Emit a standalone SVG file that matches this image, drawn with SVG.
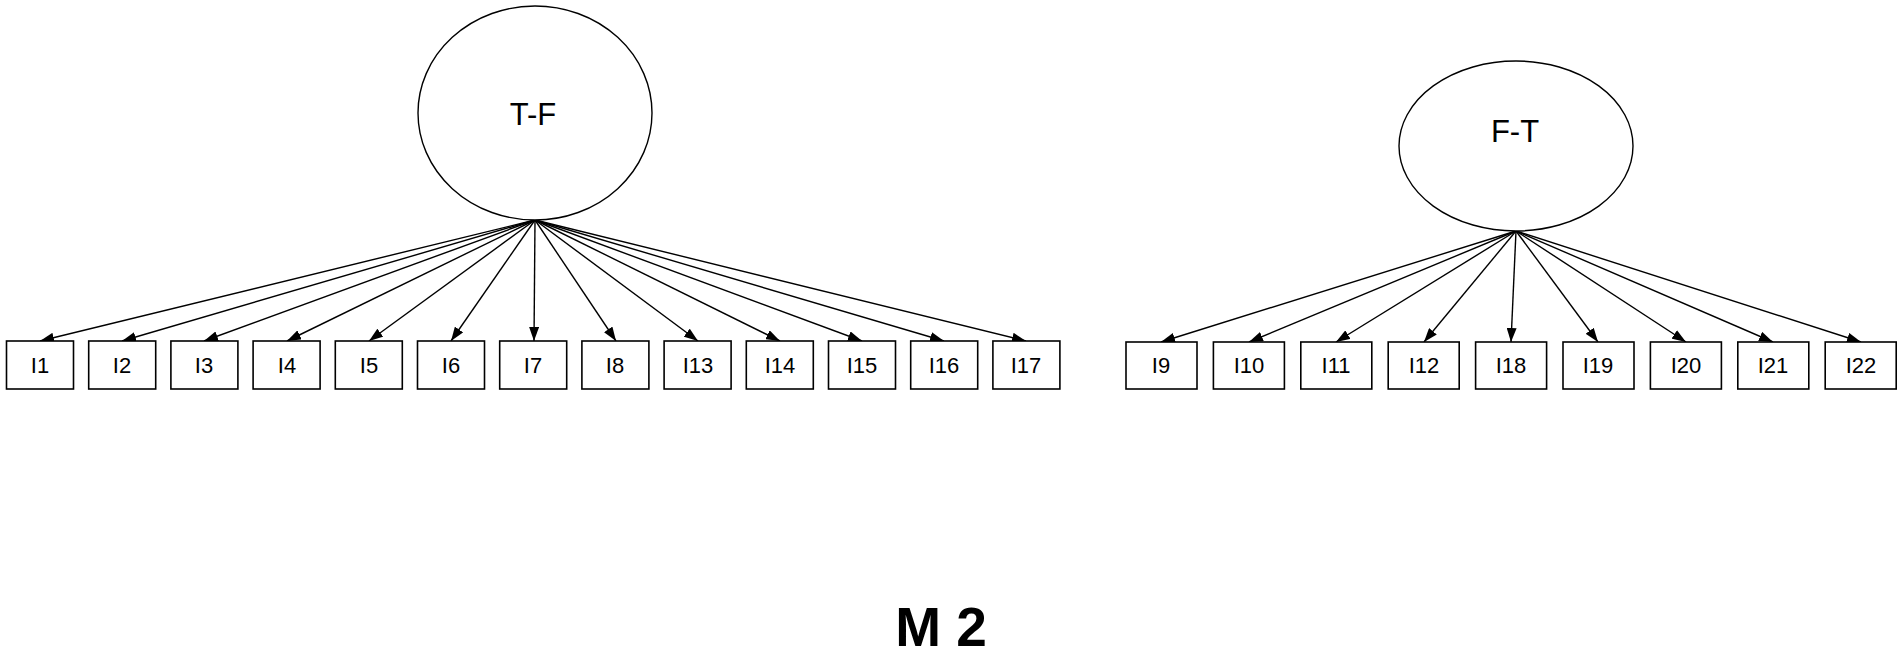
<svg xmlns="http://www.w3.org/2000/svg" width="1902" height="658" viewBox="0 0 1902 658">
<style>
.lat{fill:#fff;stroke:#000;stroke-width:1.4}
.box{fill:#fff;stroke:#000;stroke-width:1.6}
.lbl{font-family:"Liberation Sans",Arial,sans-serif;font-size:22px;fill:#000;text-anchor:middle}
.big{font-family:"Liberation Sans",Arial,sans-serif;font-size:31px;fill:#000;text-anchor:middle}
.title{font-family:"Liberation Sans",Arial,sans-serif;font-size:55px;font-weight:bold;fill:#000;text-anchor:middle}
.edge{stroke:#000;stroke-width:1.4;fill:none;marker-end:url(#ah)}
</style>
<defs>
<marker id="ah" markerUnits="userSpaceOnUse" markerWidth="14" markerHeight="10" refX="14" refY="5" orient="auto">
<path d="M0,0 L14,5 L0,10 z" fill="#000"/>
</marker>
</defs>
<rect width="1902" height="658" fill="#fff"/>
<g id="connectors">
<line class="edge" x1="535" y1="220" x2="40" y2="341"/>
<line class="edge" x1="535" y1="220" x2="122" y2="341"/>
<line class="edge" x1="535" y1="220" x2="204" y2="341"/>
<line class="edge" x1="535" y1="220" x2="287" y2="341"/>
<line class="edge" x1="535" y1="220" x2="369" y2="341"/>
<line class="edge" x1="535" y1="220" x2="451" y2="341"/>
<line class="edge" x1="535" y1="220" x2="534" y2="341"/>
<line class="edge" x1="535" y1="220" x2="616" y2="341"/>
<line class="edge" x1="535" y1="220" x2="698" y2="341"/>
<line class="edge" x1="535" y1="220" x2="780" y2="341"/>
<line class="edge" x1="535" y1="220" x2="862" y2="341"/>
<line class="edge" x1="535" y1="220" x2="944" y2="341"/>
<line class="edge" x1="535" y1="220" x2="1026" y2="341"/>
<line class="edge" x1="1516" y1="231" x2="1161" y2="342"/>
<line class="edge" x1="1516" y1="231" x2="1249" y2="342"/>
<line class="edge" x1="1516" y1="231" x2="1336" y2="342"/>
<line class="edge" x1="1516" y1="231" x2="1424" y2="342"/>
<line class="edge" x1="1516" y1="231" x2="1511" y2="342"/>
<line class="edge" x1="1516" y1="231" x2="1598" y2="342"/>
<line class="edge" x1="1516" y1="231" x2="1686" y2="342"/>
<line class="edge" x1="1516" y1="231" x2="1773" y2="342"/>
<line class="edge" x1="1516" y1="231" x2="1861" y2="342"/>
</g>
<g id="TF"><ellipse class="lat" cx="535" cy="113" rx="117" ry="107"/><text class="big" x="533" y="125">T-F</text></g>
<g id="FT"><ellipse class="lat" cx="1516" cy="146" rx="117" ry="85"/><text class="big" x="1515" y="142">F-T</text></g>
<g id="I1"><rect class="box" x="6.5" y="341" width="67" height="48"/><text class="lbl" x="40" y="373">I1</text></g>
<g id="I2"><rect class="box" x="88.7" y="341" width="67" height="48"/><text class="lbl" x="122" y="373">I2</text></g>
<g id="I3"><rect class="box" x="170.9" y="341" width="67" height="48"/><text class="lbl" x="204" y="373">I3</text></g>
<g id="I4"><rect class="box" x="253.1" y="341" width="67" height="48"/><text class="lbl" x="287" y="373">I4</text></g>
<g id="I5"><rect class="box" x="335.3" y="341" width="67" height="48"/><text class="lbl" x="369" y="373">I5</text></g>
<g id="I6"><rect class="box" x="417.5" y="341" width="67" height="48"/><text class="lbl" x="451" y="373">I6</text></g>
<g id="I7"><rect class="box" x="499.7" y="341" width="67" height="48"/><text class="lbl" x="533" y="373">I7</text></g>
<g id="I8"><rect class="box" x="581.9" y="341" width="67" height="48"/><text class="lbl" x="615" y="373">I8</text></g>
<g id="I13"><rect class="box" x="664.1" y="341" width="67" height="48"/><text class="lbl" x="698" y="373">I13</text></g>
<g id="I14"><rect class="box" x="746.3" y="341" width="67" height="48"/><text class="lbl" x="780" y="373">I14</text></g>
<g id="I15"><rect class="box" x="828.5" y="341" width="67" height="48"/><text class="lbl" x="862" y="373">I15</text></g>
<g id="I16"><rect class="box" x="910.7" y="341" width="67" height="48"/><text class="lbl" x="944" y="373">I16</text></g>
<g id="I17"><rect class="box" x="992.9" y="341" width="67" height="48"/><text class="lbl" x="1026" y="373">I17</text></g>
<g id="I9"><rect class="box" x="1126" y="342" width="71" height="47"/><text class="lbl" x="1161" y="373">I9</text></g>
<g id="I10"><rect class="box" x="1213.4" y="342" width="71" height="47"/><text class="lbl" x="1249" y="373">I10</text></g>
<g id="I11"><rect class="box" x="1300.8" y="342" width="71" height="47"/><text class="lbl" x="1336" y="373">I11</text></g>
<g id="I12"><rect class="box" x="1388.2" y="342" width="71" height="47"/><text class="lbl" x="1424" y="373">I12</text></g>
<g id="I18"><rect class="box" x="1475.6" y="342" width="71" height="47"/><text class="lbl" x="1511" y="373">I18</text></g>
<g id="I19"><rect class="box" x="1563" y="342" width="71" height="47"/><text class="lbl" x="1598" y="373">I19</text></g>
<g id="I20"><rect class="box" x="1650.4" y="342" width="71" height="47"/><text class="lbl" x="1686" y="373">I20</text></g>
<g id="I21"><rect class="box" x="1737.8" y="342" width="71" height="47"/><text class="lbl" x="1773" y="373">I21</text></g>
<g id="I22"><rect class="box" x="1825.2" y="342" width="71" height="47"/><text class="lbl" x="1861" y="373">I22</text></g>
<text class="title" x="941" y="646">M 2</text>
</svg>
